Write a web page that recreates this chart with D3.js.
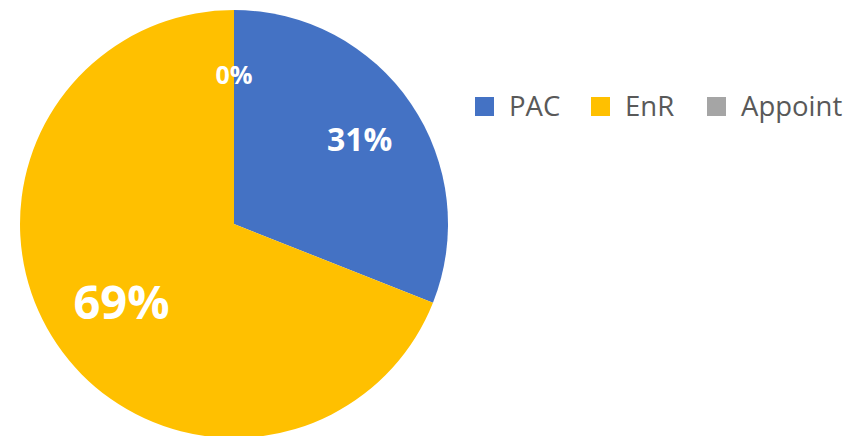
<!DOCTYPE html>
<html><head><meta charset="utf-8">
<script src="https://cdn.jsdelivr.net/npm/d3@7"></script>
<style>body{margin:0;background:#fff}svg{display:block}</style>
</head><body>
<script>
const categories = ["PAC", "EnR", "Appoint"];
const values = [31, 69, 0];
const colors = ["#4472C4", "#FFC000", "#A5A5A5"];
const labelSizes = [32, 47, 25];
const labelRadii = [0.71, 0.636, 0.70];

const W = 851, H = 436;
const cx = 234, cy = 224, r = 214;
const svg = d3.select("body").append("svg").attr("width", W).attr("height", H);
const data = categories.map((c, i) => ({cat: c, value: values[i], color: colors[i], size: labelSizes[i], lr: labelRadii[i]}));
const pie = d3.pie().value(d => d.value).sort(null);
const arcs = pie(data);
const arc = d3.arc().innerRadius(0).outerRadius(r);
const g = svg.append("g").attr("transform", `translate(${cx},${cy})`);
g.selectAll("path").data(arcs).join("path")
  .attr("d", arc).attr("fill", d => d.data.color);
const total = d3.sum(values);
g.selectAll("text").data(arcs).join("text")
  .attr("transform", d => {
    const la = d3.arc().innerRadius(r * d.data.lr).outerRadius(r * d.data.lr);
    return `translate(${la.centroid(d)})`;
  })
  .attr("text-anchor", "middle").attr("dominant-baseline", "central")
  .attr("font-family", "'Open Sans', sans-serif").attr("font-weight", "bold")
  .attr("font-size", d => d.data.size).attr("fill", "#fff")
  .text(d => Math.round(d.data.value / total * 100) + "%");

const legendX = [475, 591, 707];
const lg = svg.append("g");
data.forEach((d, i) => {
  lg.append("rect").attr("x", legendX[i]).attr("y", 97).attr("width", 19).attr("height", 19).attr("fill", d.color);
  lg.append("text").attr("x", legendX[i] + 34).attr("y", 116)
    .attr("font-family", "'Open Sans', sans-serif").attr("font-size", 27.5)
    .attr("fill", "#595959").text(d.cat);
});
</script>
</body></html>
